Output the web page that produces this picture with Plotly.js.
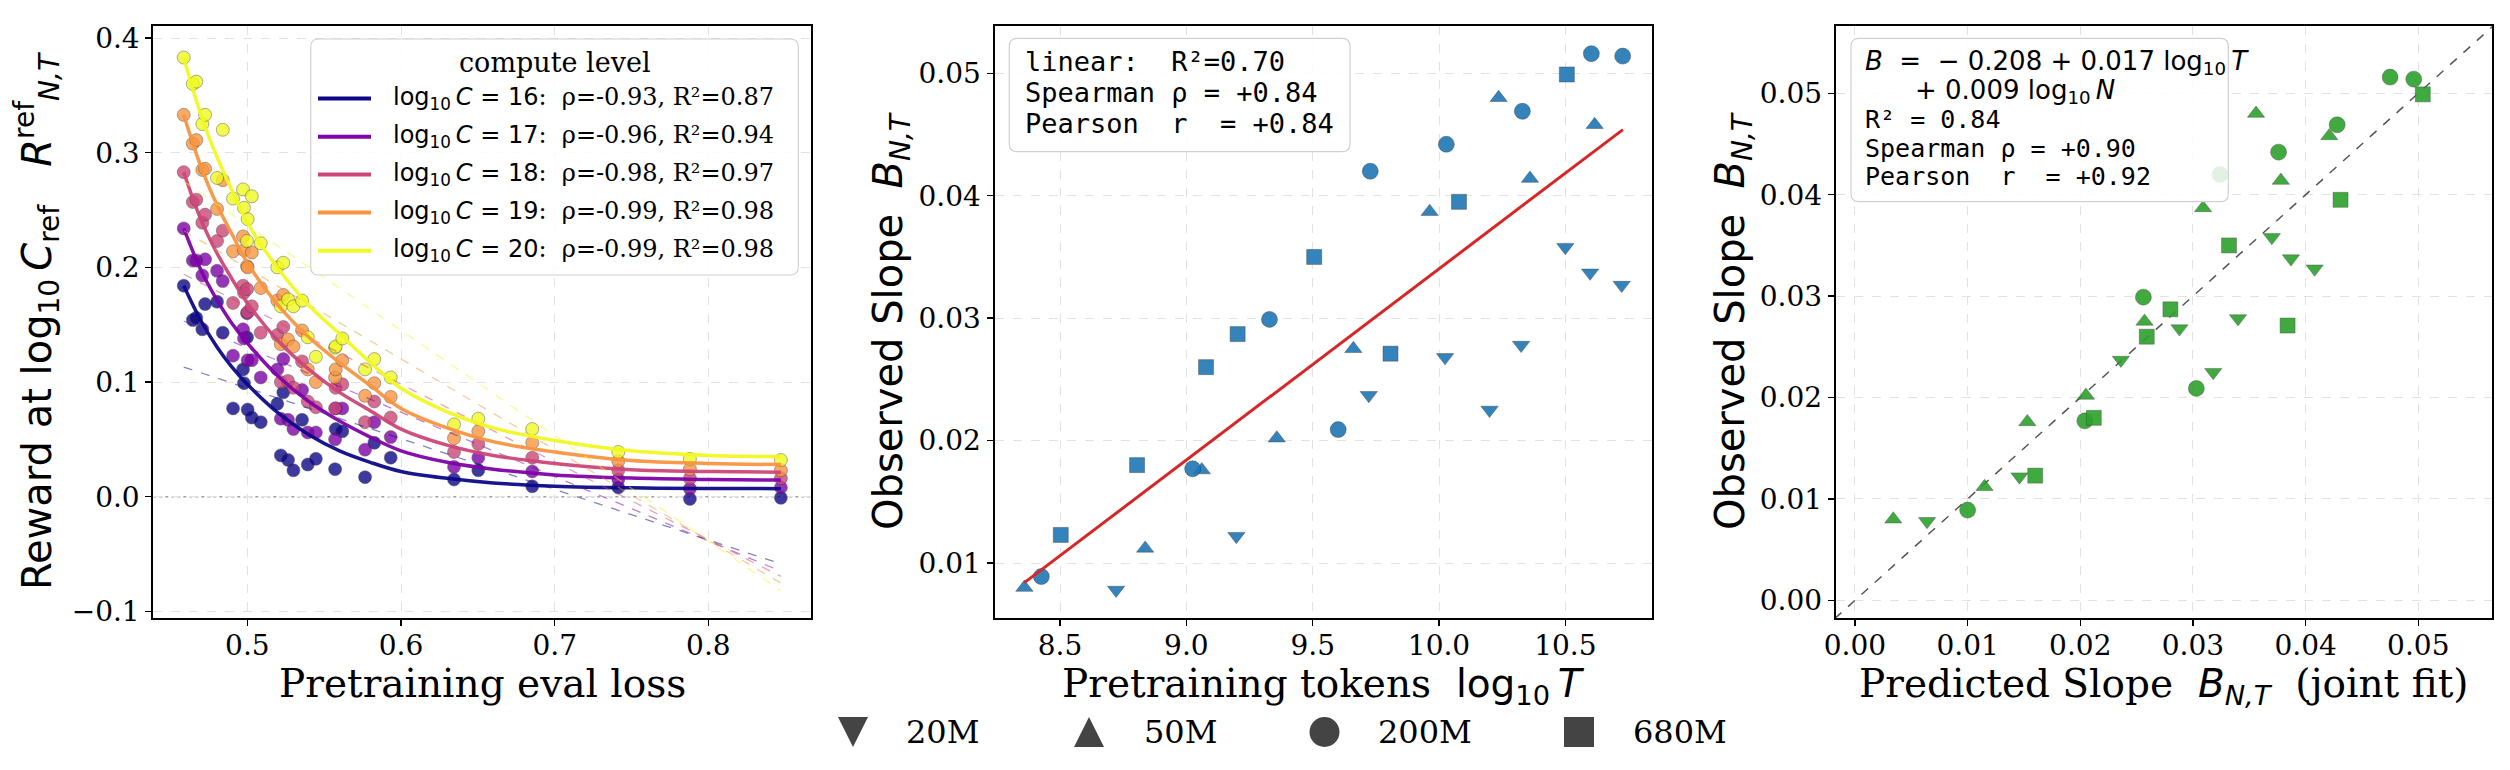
<!DOCTYPE html>
<html><head><meta charset="utf-8">
<script src="https://cdn.plot.ly/plotly-3.0.1.min.js"></script>
<style>html,body{margin:0;padding:0;background:#fff;} #chart{width:2510px;height:770px;}</style>
</head><body><div id="chart"></div>
<script>
// ---------------- data: left panel (reward vs eval loss) ----------------
const computeLevels = [16, 17, 18, 19, 20];
const levelColors = ['#0d0887', '#7e03a8', '#cc4778', '#f89540', '#f0f921'];
const levelRho = ['-0.93', '-0.96', '-0.98', '-0.99', '-0.99'];
const levelR2 = ['0.87', '0.94', '0.97', '0.98', '0.98'];

const evalLoss = [0.4586, 0.4645, 0.4668, 0.4707, 0.4725, 0.4803, 0.4840, 0.4907, 0.4972, 0.4978,
  0.4998, 0.5002, 0.5029, 0.5087, 0.5195, 0.5218, 0.5234, 0.5265, 0.5300, 0.5356,
  0.5393, 0.5446, 0.5571, 0.5575, 0.5618, 0.5766, 0.5826, 0.5933, 0.6345, 0.6503,
  0.6854, 0.7414, 0.7880, 0.8472];
const reward16 = [0.184, 0.154, 0.156, 0.146, 0.168, 0.170, 0.143, 0.077, 0.111, 0.099,
  0.139, 0.076, 0.069, 0.065, 0.081, 0.036, 0.091, 0.032, 0.023, 0.067,
  0.028, 0.033, 0.024, 0.059, 0.057, 0.017, 0.047, 0.034, 0.015, 0.023,
  0.009, 0.008, -0.002, -0.001];
const reward17 = [0.234, 0.206, 0.206, 0.193, 0.207, 0.197, 0.188, 0.123, 0.146, 0.138,
  0.160, 0.119, 0.119, 0.104, 0.111, 0.068, 0.120, 0.067, 0.059, 0.093,
  0.056, 0.056, 0.050, 0.077, 0.077, 0.041, 0.065, 0.052, 0.026, 0.034,
  0.022, 0.015, 0.007, 0.008];
const reward18 = [0.283, 0.257, 0.259, 0.239, 0.246, 0.223, 0.232, 0.169, 0.184, 0.178,
  0.181, 0.161, 0.166, 0.143, 0.141, 0.100, 0.148, 0.101, 0.095, 0.118,
  0.083, 0.078, 0.077, 0.095, 0.098, 0.065, 0.083, 0.069, 0.039, 0.046,
  0.034, 0.023, 0.016, 0.016];
const reward19 = [0.333, 0.308, 0.311, 0.285, 0.286, 0.251, 0.276, 0.214, 0.227, 0.215,
  0.201, 0.200, 0.213, 0.182, 0.171, 0.133, 0.176, 0.137, 0.131, 0.145,
  0.111, 0.100, 0.104, 0.111, 0.119, 0.088, 0.099, 0.087, 0.051, 0.057,
  0.047, 0.031, 0.024, 0.023];
const reward20 = [0.383, 0.360, 0.362, 0.325, 0.333, 0.278, 0.320, 0.260, 0.268, 0.252,
  0.223, 0.242, 0.262, 0.221, 0.200, 0.166, 0.204, 0.172, 0.166, 0.171,
  0.139, 0.122, 0.130, 0.131, 0.138, 0.111, 0.120, 0.104, 0.063, 0.068,
  0.059, 0.039, 0.033, 0.032];

// fitted saturating curves
const fitLoss = [0.4586, 0.47, 0.48, 0.49, 0.50, 0.52, 0.54, 0.56, 0.58, 0.60, 0.63, 0.66, 0.70, 0.75, 0.80, 0.8472];
const fit16 = [0.184, 0.153, 0.131, 0.113, 0.098, 0.073, 0.054, 0.040, 0.030, 0.022, 0.016, 0.012, 0.0092, 0.0077, 0.0072, 0.0070];
const fit17 = [0.234, 0.197, 0.172, 0.151, 0.134, 0.105, 0.083, 0.066, 0.052, 0.040, 0.030, 0.024, 0.019, 0.0162, 0.0150, 0.0145];
const fit18 = [0.283, 0.241, 0.213, 0.190, 0.169, 0.136, 0.111, 0.091, 0.075, 0.059, 0.045, 0.036, 0.029, 0.0235, 0.0220, 0.0213];
const fit19 = [0.333, 0.287, 0.255, 0.229, 0.204, 0.167, 0.139, 0.117, 0.097, 0.077, 0.060, 0.048, 0.039, 0.0315, 0.0290, 0.0280];
const fit20 = [0.383, 0.332, 0.297, 0.267, 0.239, 0.199, 0.167, 0.142, 0.117, 0.0945, 0.074, 0.060, 0.049, 0.040, 0.036, 0.035];

// linear fits (dashed), endpoints
const linLoss = [0.4586, 0.8472];
const lin16 = [0.113, -0.0586];
const lin17 = [0.153, -0.065];
const lin18 = [0.194, -0.0695];
const lin19 = [0.232, -0.0754];
const lin20 = [0.275, -0.082];

// ---------------- data: middle / right panels ----------------
const modelSizes = ['20M', '50M', '200M', '680M'];
const modelSymbols = ['triangle-down', 'triangle-up', 'circle', 'square'];

const logT_20M = [8.722, 9.198, 9.722, 10.024, 10.200, 10.325, 10.500, 10.598, 10.723];
const slope_20M = [0.0078, 0.0122, 0.0237, 0.0268, 0.0225, 0.0278, 0.0358, 0.0337, 0.0327];
const pred_20M = [0.0064, 0.0146, 0.0236, 0.0288, 0.0318, 0.0340, 0.0370, 0.0387, 0.0408];

const logT_50M = [8.359, 8.837, 9.061, 9.358, 9.661, 9.963, 10.236, 10.360, 10.616];
const slope_50M = [0.0080, 0.0112, 0.0176, 0.0202, 0.0275, 0.0387, 0.0480, 0.0414, 0.0458];
const pred_50M = [0.0034, 0.0115, 0.0153, 0.0205, 0.0257, 0.0309, 0.0356, 0.0378, 0.0421];

const logT_200M = [8.426, 9.025, 9.329, 9.601, 9.728, 10.029, 10.330, 10.603, 10.727];
const slope_200M = [0.0089, 0.0177, 0.0299, 0.0209, 0.0420, 0.0442, 0.0469, 0.0516, 0.0514];
const pred_200M = [0.0100, 0.0204, 0.0256, 0.0303, 0.0324, 0.0376, 0.0428, 0.0475, 0.0496];

const logT_680M = [8.503, 8.805, 9.078, 9.203, 9.506, 9.808, 10.079, 10.506];
const slope_680M = [0.0123, 0.0180, 0.0260, 0.0287, 0.0350, 0.0271, 0.0395, 0.0499];
const pred_680M = [0.0160, 0.0212, 0.0259, 0.0280, 0.0332, 0.0384, 0.0431, 0.0504];

const trendLogT = [8.359, 10.728];
const trendSlope = [0.0084, 0.0454];
const diagLine = [-0.0018, 0.0567];

const linearR2 = '0.70', midSpearman = '+0.84', midPearson = '+0.84';
const jointIntercept = '0.208', jointCoefT = '0.017', jointCoefN = '0.009';
const jointR2 = '0.84', jointSpearman = '+0.90', jointPearson = '+0.92';

// tick labels
const lossTicks = [0.5, 0.6, 0.7, 0.8];
const lossTickText = ['0.5', '0.6', '0.7', '0.8'];
const rewardTicks = [-0.1, 0, 0.1, 0.2, 0.3, 0.4];
const rewardTickText = ['\u22120.1', '0.0', '0.1', '0.2', '0.3', '0.4'];
const tokTicks = [8.5, 9.0, 9.5, 10.0, 10.5];
const tokTickText = ['8.5', '9.0', '9.5', '10.0', '10.5'];
const slopeTicks = [0.01, 0.02, 0.03, 0.04, 0.05];
const slopeTickText = ['0.01', '0.02', '0.03', '0.04', '0.05'];
const predTicks = [0, 0.01, 0.02, 0.03, 0.04, 0.05];
const predTickText = ['0.00', '0.01', '0.02', '0.03', '0.04', '0.05'];

// ---------------- build ----------------
const W = 2510, H = 770;
const X = v => v / W, Y = v => 1 - v / H;
const NB = '\u00a0', THIN = '\u2009';

const rewards = [reward16, reward17, reward18, reward19, reward20];
const fits = [fit16, fit17, fit18, fit19, fit20];
const lins = [lin16, lin17, lin18, lin19, lin20];

const traces = [];
computeLevels.forEach((c, i) => {
  traces.push({type: 'scatter', mode: 'markers', x: evalLoss, y: rewards[i], xaxis: 'x', yaxis: 'y',
    marker: {color: levelColors[i], size: 13, opacity: 0.8, line: {color: 'rgba(50,50,50,0.7)', width: 0.7}},
    hoverinfo: 'skip'});
});
computeLevels.forEach((c, i) => {
  traces.push({type: 'scatter', mode: 'lines', x: linLoss, y: lins[i], xaxis: 'x', yaxis: 'y',
    line: {color: levelColors[i], width: 1.3, dash: 'dash'}, opacity: 0.5, hoverinfo: 'skip'});
  traces.push({type: 'scatter', mode: 'lines', x: fitLoss, y: fits[i], xaxis: 'x', yaxis: 'y',
    line: {color: levelColors[i], width: 3.5, shape: 'spline', smoothing: 1}, opacity: 0.95, hoverinfo: 'skip'});
});

const logTs = [logT_20M, logT_50M, logT_200M, logT_680M];
const slopes = [slope_20M, slope_50M, slope_200M, slope_680M];
const preds = [pred_20M, pred_50M, pred_200M, pred_680M];
const symSize = [15, 15, 16, 15];

modelSizes.forEach((m, i) => {
  traces.push({type: 'scatter', mode: 'markers', name: m, x: logTs[i], y: slopes[i], xaxis: 'x2', yaxis: 'y2',
    marker: {symbol: modelSymbols[i], color: '#1f77b4', opacity: 0.9, size: symSize[i], line: {color: 'rgba(40,40,40,0.7)', width: 0.6}},
    hoverinfo: 'skip'});
});
traces.push({type: 'scatter', mode: 'lines', x: trendLogT, y: trendSlope, xaxis: 'x2', yaxis: 'y2',
  line: {color: '#d62728', width: 3}, hoverinfo: 'skip'});

traces.push({type: 'scatter', mode: 'lines', x: diagLine, y: diagLine, xaxis: 'x3', yaxis: 'y3',
  line: {color: '#555555', width: 1.5, dash: 'dash'}, hoverinfo: 'skip'});
modelSizes.forEach((m, i) => {
  traces.push({type: 'scatter', mode: 'markers', name: m, x: preds[i], y: slopes[i], xaxis: 'x3', yaxis: 'y3',
    marker: {symbol: modelSymbols[i], color: '#2ca02c', opacity: 0.9, size: symSize[i], line: {color: 'rgba(60,60,60,0.7)', width: 0.6}},
    hoverinfo: 'skip'});
});

function axis(extra) {
  return Object.assign({
    showline: true, mirror: true, linecolor: 'black', linewidth: 2,
    ticks: 'outside', ticklen: 6, tickwidth: 1.5, tickcolor: 'black',
    showgrid: true, gridcolor: '#e2e2e2', griddash: 'dash', gridwidth: 1,
    zeroline: false, automargin: false, tickmode: 'array',
    tickfont: {family: 'DejaVu Serif', size: 28, color: 'black'}
  }, extra);
}
const yDom = [Y(618), Y(26)];
const titleFontSerif = {family: 'DejaVu Serif', size: 39, color: 'black'};
const titleFontSans = {family: 'DejaVu Sans', size: 40, color: 'black'};
const sans = s => '<span style="font-family:DejaVu Sans">' + s + '</span>';

function roundRect(x0, y0, x1, y1, r) {
  const p = (x, y) => X(x).toFixed(6) + ',' + Y(y).toFixed(6);
  return 'M' + p(x0 + r, y0) + ' L' + p(x1 - r, y0) + ' Q' + p(x1, y0) + ' ' + p(x1, y0 + r) +
    ' L' + p(x1, y1 - r) + ' Q' + p(x1, y1) + ' ' + p(x1 - r, y1) +
    ' L' + p(x0 + r, y1) + ' Q' + p(x0, y1) + ' ' + p(x0, y1 - r) +
    ' L' + p(x0, y0 + r) + ' Q' + p(x0, y0) + ' ' + p(x0 + r, y0) + ' Z';
}
const boxStyle = {type: 'path', xref: 'paper', yref: 'paper', fillcolor: 'rgba(255,255,255,0.85)',
  line: {color: '#d0d0d0', width: 1.2}, layer: 'above'};

const shapes = [];
const annotations = [];

// zero reference line (left)
shapes.push({type: 'line', xref: 'x domain', x0: 0, x1: 1, yref: 'y', y0: 0, y1: 0,
  line: {color: '#a0a0a0', width: 1.5, dash: 'dot'}, layer: 'below'});

// x-axis titles (placed just below the tick labels)
const xTitleTop = 660;
const xTitles = [
  {x: 482, text: 'Pretraining eval loss'},
  {x: 1323.3, text: 'Pretraining tokens' + NB + NB + sans('log<sub>10</sub>' + THIN + '<i>T</i>')},
  {x: 2164, text: 'Predicted Slope' + NB + NB + sans('<i>B</i><sub><i>N,T</i></sub>') + NB + NB + '(joint fit)'}
];
xTitles.forEach(t => annotations.push({xref: 'paper', yref: 'paper', x: X(t.x), y: Y(xTitleTop), xanchor: 'center', yanchor: 'top',
  showarrow: false, borderpad: 0, text: t.text, font: titleFontSerif}));

// left legend
shapes.push(Object.assign({path: roundRect(310.7, 39, 798.3, 275, 8)}, boxStyle));
annotations.push({xref: 'paper', yref: 'paper', x: X(554.5), y: Y(62), xanchor: 'center', yanchor: 'middle',
  showarrow: false, text: 'compute level', font: {family: 'DejaVu Serif', size: 27, color: 'black'}});
const rowY = [98.5, 136.7, 174.6, 212.6, 250.8];
computeLevels.forEach((c, i) => {
  shapes.push({type: 'line', xref: 'paper', yref: 'paper', x0: X(318), x1: X(371), y0: Y(rowY[i]), y1: Y(rowY[i]),
    line: {color: levelColors[i], width: 4}, layer: 'above'});
  annotations.push({xref: 'paper', yref: 'paper', x: X(391), y: Y(rowY[i]), xanchor: 'left', yanchor: 'middle',
    showarrow: false, font: {family: 'DejaVu Serif', size: 24, color: 'black'},
    text: sans('log<sub>10</sub>' + THIN + '<i>C</i>' + NB + '=' + NB + c) + ':' + NB + NB + '\u03c1=' + levelRho[i] + ', R\u00b2=' + levelR2[i]});
});

// middle stats box
shapes.push(Object.assign({path: roundRect(1009.3, 38.3, 1350, 151.7, 8)}, boxStyle));
const midLines = ['linear:  R\u00b2=' + linearR2, 'Spearman \u03c1 = ' + midSpearman, 'Pearson  r  = ' + midPearson];
const midY = [61.7, 92.6, 123.3];
midLines.forEach((t, i) => {
  annotations.push({xref: 'paper', yref: 'paper', x: X(1022.7), y: Y(midY[i]), xanchor: 'left', yanchor: 'middle',
    showarrow: false, text: t.replace(/ /g, NB), font: {family: 'DejaVu Sans Mono', size: 27, color: 'black'}});
});

// right stats box
shapes.push(Object.assign({path: roundRect(1851, 38.3, 2228.3, 201.7, 8)}, boxStyle));
annotations.push({xref: 'paper', yref: 'paper', x: X(1862.7), y: Y(62), xanchor: 'left', yanchor: 'middle', showarrow: false,
  font: {family: 'DejaVu Sans', size: 26, color: 'black'},
  text: '<i>B</i>' + NB + NB + '=' + NB + NB + '\u2212' + NB + '0.' + jointIntercept.slice(2) + ' + ' + jointCoefT + NB + 'log<sub>10</sub>' + THIN + '<i>T</i>'});
annotations.push({xref: 'paper', yref: 'paper', x: X(1913), y: Y(91.5), xanchor: 'left', yanchor: 'middle', showarrow: false,
  font: {family: 'DejaVu Sans', size: 26, color: 'black'},
  text: '+' + NB + jointCoefN + NB + 'log<sub>10</sub>' + THIN + '<i>N</i>'});
const rightLines = ['R\u00b2 = ' + jointR2, 'Spearman \u03c1 = ' + jointSpearman, 'Pearson  r  = ' + jointPearson];
const rightY = [119.5, 148.5, 176.5];
rightLines.forEach((t, i) => {
  annotations.push({xref: 'paper', yref: 'paper', x: X(1862.7), y: Y(rightY[i]), xanchor: 'left', yanchor: 'middle',
    showarrow: false, text: t.replace(/ /g, NB), font: {family: 'DejaVu Sans Mono', size: 25, color: 'black'}});
});

// figure legend (model sizes)
const legMarkX = [853, 1089, 1324.5, 1579];
const legTextX = [904, 1142, 1376, 1631];
const legY = 732;
const legendGray = '#444444';
modelSizes.forEach((m, i) => {
  const base = {xref: 'paper', yref: 'paper', xsizemode: 'pixel', ysizemode: 'pixel',
    xanchor: X(legMarkX[i]), yanchor: Y(legY), fillcolor: legendGray, line: {width: 0}, layer: 'above'};
  if (modelSymbols[i] === 'triangle-down') shapes.push(Object.assign({type: 'path', path: 'M-15,15 L15,15 L0,-15 Z'}, base));
  else if (modelSymbols[i] === 'triangle-up') shapes.push(Object.assign({type: 'path', path: 'M-15,-15 L15,-15 L0,15 Z'}, base));
  else if (modelSymbols[i] === 'circle') shapes.push(Object.assign({type: 'circle', x0: -15, x1: 15, y0: -15, y1: 15}, base));
  else shapes.push(Object.assign({type: 'rect', x0: -15, x1: 15, y0: -15, y1: 15}, base));
  annotations.push({xref: 'paper', yref: 'paper', x: X(legTextX[i]), y: Y(legY), xanchor: 'left', yanchor: 'middle',
    showarrow: false, text: m, font: {family: 'DejaVu Serif', size: 32, color: 'black'}});
});

const layout = {
  width: W, height: H, margin: {l: 0, r: 0, t: 0, b: 0}, showlegend: false,
  paper_bgcolor: 'white', plot_bgcolor: 'white',
  font: {family: 'DejaVu Serif', color: 'black'},
  xaxis: axis({domain: [X(153.3), X(810.7)], range: [0.4388, 0.8666], anchor: 'y',
    tickvals: lossTicks, ticktext: lossTickText, ticklabelstandoff: -5}),
  yaxis: axis({domain: yDom, range: [-0.1058, 0.4105], anchor: 'x',
    tickvals: rewardTicks, ticktext: rewardTickText,
    title: {text: 'Reward at log<sub>10</sub>' + THIN + '<i>C</i><sub>ref</sub>' + NB + NB + NB + '<i>R</i><sup>ref</sup><sub><i>N,T</i></sub>', font: titleFontSans, standoff: 8}}),
  xaxis2: axis({domain: [X(994.5), X(1652)], range: [8.2407, 10.843], anchor: 'y2',
    tickvals: tokTicks, ticktext: tokTickText, ticklabelstandoff: -5}),
  yaxis2: axis({domain: yDom, range: [0.005515, 0.05386], anchor: 'x2',
    tickvals: slopeTicks, ticktext: slopeTickText,
    title: {text: 'Observed Slope' + NB + NB + '<i>B</i><sub><i>N,T</i></sub>', font: titleFontSans, standoff: 4}}),
  xaxis3: axis({domain: [X(1835.7), X(2492.3)], range: [-0.00171, 0.05657], anchor: 'y3',
    tickvals: predTicks, ticktext: predTickText, ticklabelstandoff: -5}),
  yaxis3: axis({domain: yDom, range: [-0.00174, 0.05664], anchor: 'x3',
    tickvals: predTicks, ticktext: predTickText,
    title: {text: 'Observed Slope' + NB + NB + '<i>B</i><sub><i>N,T</i></sub>', font: titleFontSans, standoff: 3}}),
  shapes: shapes,
  annotations: annotations
};

Plotly.newPlot('chart', traces, layout, {staticPlot: true, displayModeBar: false});
</script></body></html>
